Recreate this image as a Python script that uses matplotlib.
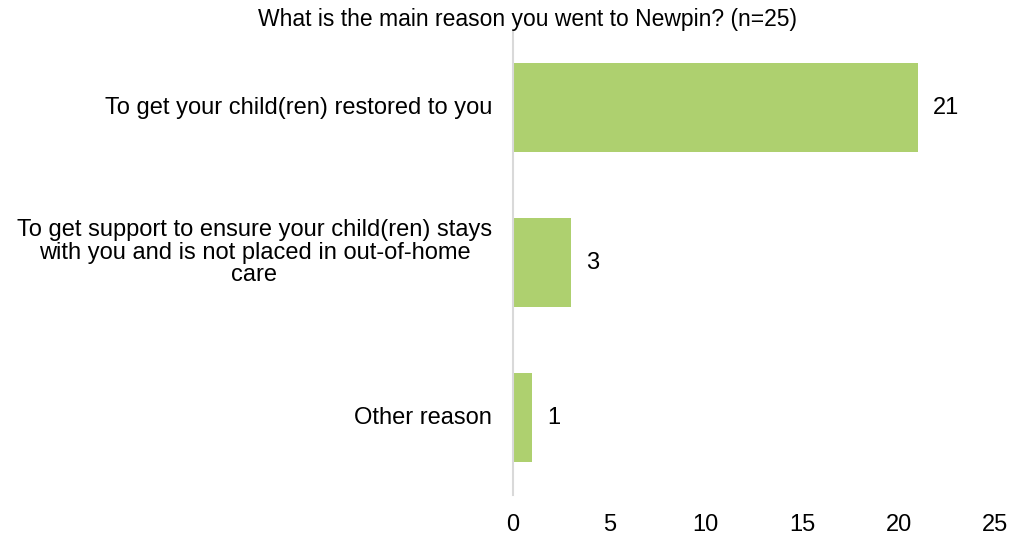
import numpy as np
import matplotlib.pyplot as plt

plt.rcParams['font.family'] = ['Liberation Sans', 'DejaVu Sans']

categories = [
    "To get your child(ren) restored to you",
    "To get support to ensure your child(ren) stays\nwith you and is not placed in out-of-home\ncare",
    "Other reason",
]
counts = [21, 3, 1]
xticks = [0, 5, 10, 15, 20, 25]
title = "What is the main reason you went to Newpin? (n=25)"

fig = plt.figure(figsize=(10.13, 5.40), dpi=100)
ax = fig.add_axes([0.5064, 0.0833, 0.4758, 0.8611])

y = np.arange(len(categories))
bars = ax.barh(y, counts, height=0.57, color="#aed06f")
ax.set_ylim(len(categories) - 0.5, -0.5)
ax.set_xlim(0, 25)
ax.set_xticks(xticks)
ax.set_yticks([])
ax.tick_params(axis="both", length=0, labelsize=17, colors="black")
ax.tick_params(axis="x", pad=14)

# category labels (multi-line one sits a little high, like the original)
for yi, lab in zip(y, categories):
    dy = 10 if "\n" in lab else 0
    ax.annotate(lab, (0, yi), xytext=(-21, dy), textcoords="offset pixels",
                ha="right", va="center", multialignment="center",
                fontsize=17, linespacing=1.03, annotation_clip=False)

for s in ["top", "right", "bottom"]:
    ax.spines[s].set_visible(False)
ax.spines["left"].set_color("#d9d9d9")
ax.spines["left"].set_linewidth(1.5)

for b, v in zip(bars, counts):
    ax.annotate(str(v), (b.get_width(), b.get_y() + b.get_height() / 2),
                xytext=(15, 0), textcoords="offset pixels",
                va="center", ha="left", fontsize=17)

fig.text(0.521, 0.963, title, ha="center", va="center", fontsize=16.5)

fig.savefig("out.png", dpi=100)
